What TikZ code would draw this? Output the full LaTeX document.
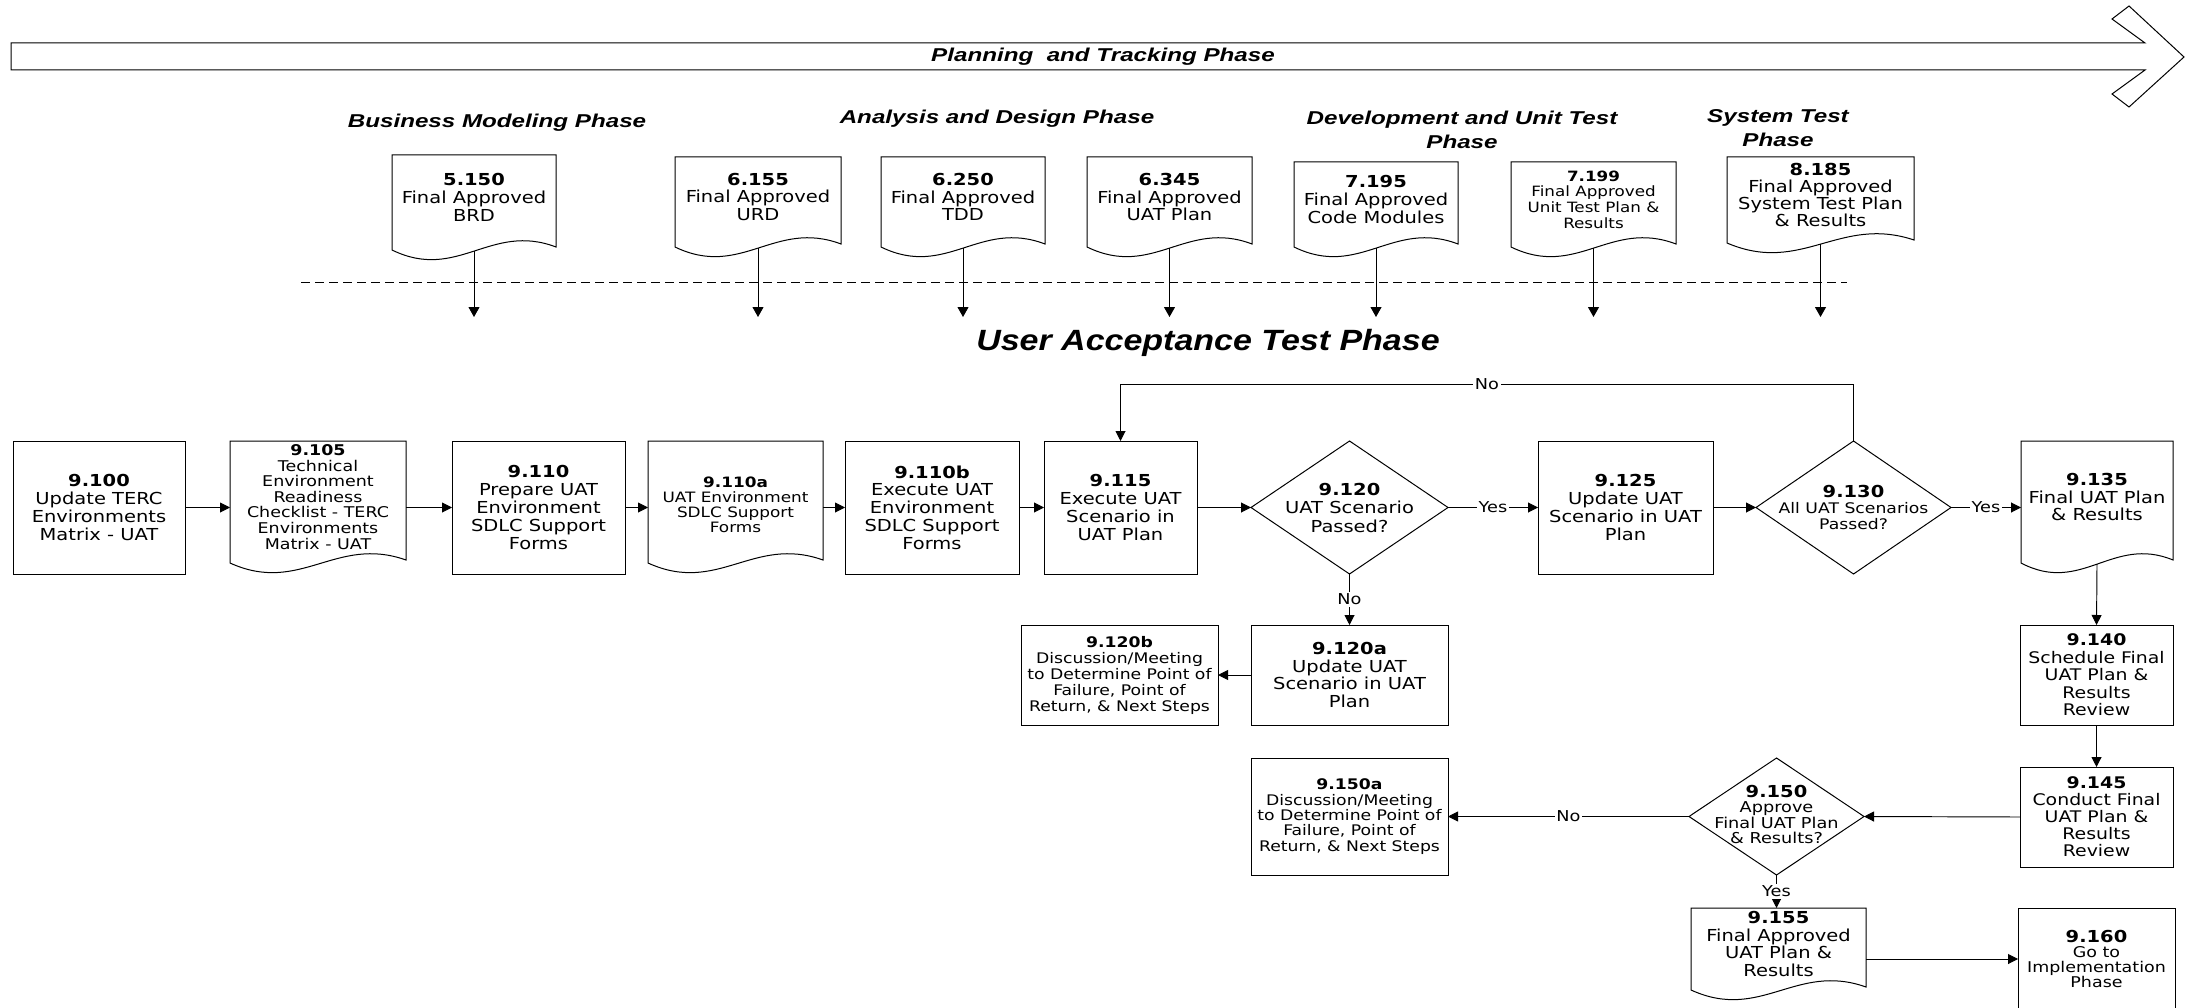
\documentclass[tikz,border=0pt]{standalone}
\usepackage{fontspec}
\usetikzlibrary{arrows.meta,shapes.geometric,calc}
\newfontfamily\bodyf[FakeStretch=1.18]{DejaVu Sans}
\newfontfamily\headf[FakeStretch=1.3]{Liberation Sans}
\newfontfamily\titlef[FakeStretch=1.16]{Liberation Sans}
\newcommand\fsz[2]{\fontsize{#1}{#2}\selectfont}
\begin{document}
\begin{tikzpicture}[x=1pt,y=-1pt,
  every node/.style={inner sep=0pt, outer sep=0pt},
  shp/.style={line width=1pt},
  sz/.style 2 args={minimum width=#1pt, minimum height=#2pt},
  proc/.style={shp, draw, rectangle, align=center, font=\bodyf\fsz{16.5}{17.8}},
  doc/.style={rectangle, align=center, font=\bodyf\fsz{16.5}{17.8}},
  dec/.style={shp, draw, diamond},
  arr/.style={line width=0.95pt, -{Triangle[length=10pt,width=10pt]}},
  lbl/.style={fill=white, font=\bodyf\fsz{15}{15}, inner sep=1.5pt},
  hdr/.style={font=\headf\bfseries\itshape\fsz{18.6}{24}, align=center},
]
\useasboundingbox (0,0) rectangle (2186,1008);
\clip (0,0) rectangle (2186,1008);

% big phase arrow
\draw[shp] (2145,43) -- (11,43) -- (11,70) -- (2145,70) -- (2112,94) -- (2129,107)
  -- (2184,57) -- (2129,6) -- (2112,19) -- cycle;
\node[font=\headf\bfseries\itshape\fsz{18.6}{18}] (ptp) at (1103,57) {Planning\ \ and Tracking Phase};

% phase headers
\node[hdr] (hbm) at (497,123) {Business Modeling Phase};
\node[hdr] (had) at (997,119) {Analysis and Design Phase};
\node[hdr] (hdu) at (1462,130) {Development and Unit Test\\Phase};
\node[hdr] (hst) at (1778,128) {System Test\\Phase};

% top documents
\node[doc,sz={164}{85}] (d5150) at (474,197.5) {\textbf{5.150}\\Final Approved\\BRD};
\node[doc,sz={166}{80}] (d6155) at (758,197) {\textbf{6.155}\\Final Approved\\URD};
\node[doc,sz={164}{80}] (d6250) at (963,197) {\textbf{6.250}\\Final Approved\\TDD};
\node[doc,sz={165}{80}] (d6345) at (1169.5,197) {\textbf{6.345}\\Final Approved\\UAT Plan};
\node[doc,sz={164}{75}] (d7195) at (1376,199.5) {\textbf{7.195}\\Final Approved\\Code Modules};
\node[doc,sz={165}{75},font=\bodyf\fsz{14.2}{15.7}] (d7199) at (1593.5,199.5) {\textbf{7.199}\\Final Approved\\Unit Test Plan \&\\Results};
\node[doc,sz={187}{76},font=\bodyf\fsz{16.5}{17.3}] (d8185) at (1820.5,195) {\textbf{8.185}\\Final Approved\\System Test Plan\\\& Results};

% separator
\coordinate (dl) at (301,282);
\coordinate (dr) at (1847,282);
\draw[line width=1pt, dash pattern=on 9pt off 5pt] (dl) -- (dr);
\coordinate (tipline) at (0,317);

\node[font=\titlef\bfseries\itshape\fsz{29.3}{30}] (title) at (1208,343) {User Acceptance Test Phase};

% main row
\node[proc,sz={172}{133}] (n9100) at (99,507.5) {\textbf{9.100}\\Update TERC\\Environments\\Matrix - UAT};
\node[doc,sz={176}{112},font=\bodyf\fsz{14.8}{15.6}] (n9105) at (318,497) {\textbf{9.105}\\Technical\\Environment\\Readiness\\Checklist - TERC\\Environments\\Matrix - UAT};
\node[proc,sz={173}{133}] (n9110) at (538.5,507.5) {\textbf{9.110}\\Prepare UAT\\Environment\\SDLC Support\\Forms};
\node[doc,sz={175}{112},font=\bodyf\fsz{14.3}{14.8}] (n9110a) at (735.5,497) {\textbf{\rule{0pt}{26pt}9.110a}\\UAT Environment\\SDLC Support\\Forms};
\node[proc,sz={174}{133}] (n9110b) at (932,507.5) {\textbf{9.110b}\\Execute UAT\\Environment\\SDLC Support\\Forms};
\node[proc,sz={153}{133}] (n9115) at (1120.5,507.5) {\textbf{9.115}\\Execute UAT\\Scenario in\\UAT Plan};
\node[dec,sz={197}{133},label={[font=\bodyf\fsz{16.5}{18.5},align=center]center:{\textbf{9.120}\\UAT Scenario\\Passed?}}] (n9120) at (1349.5,507.5) {};
\node[proc,sz={175}{133}] (n9125) at (1625.5,507.5) {\textbf{9.125}\\Update UAT\\Scenario in UAT\\Plan};
\node[dec,sz={195}{133},label={[font=\bodyf\fsz{14.6}{16},align=center]center:{{\fsz{16.5}{16}\bfseries 9.130}\\All UAT Scenarios\\Passed?}}] (n9130) at (1853.5,507.5) {};
\node[doc,sz={152}{112}] (n9135) at (2097,497) {\textbf{9.135}\\Final UAT Plan\\\& Results};

% lower part
\node[proc,sz={197}{100}] (n9120a) at (1349.5,675) {\textbf{9.120a}\\Update UAT\\Scenario in UAT\\Plan};
\node[proc,sz={197}{100},font=\bodyf\fsz{14.6}{16}] (n9120b) at (1119.5,675) {\textbf{9.120b}\\Discussion/Meeting\\to Determine Point of\\Failure, Point of\\Return, \& Next Steps};
\node[proc,sz={153}{100},font=\bodyf\fsz{16}{17.5}] (n9140) at (2096.5,675) {\textbf{9.140}\\Schedule Final\\UAT Plan \&\\Results\\Review};
\node[proc,sz={153}{100},font=\bodyf\fsz{16}{17}] (n9145) at (2096.5,817) {\textbf{9.145}\\Conduct Final\\UAT Plan \&\\Results\\Review};
\node[dec,sz={175}{117},label={[font=\bodyf\fsz{15}{15.2},align=center,yshift=2pt]center:{{\fsz{16.5}{15.2}\bfseries 9.150}\\Approve\\Final UAT Plan\\\& Results?}}] (n9150) at (1776.5,816.5) {};
\node[proc,sz={197}{117},font=\bodyf\fsz{14.6}{15.3}] (n9150a) at (1349.5,816.5) {\textbf{9.150a}\\Discussion/Meeting\\to Determine Point of\\Failure, Point of\\Return, \& Next Steps};
\node[doc,sz={175}{72},font=\bodyf\fsz{16.5}{17.5}] (n9155) at (1778.5,944) {\textbf{9.155}\\Final Approved\\UAT Plan \&\\Results};
\node[proc,sz={157}{102},font=\bodyf\fsz{14.8}{15}] (n9160) at (2096.5,959) {{\fsz{16.5}{15}\bfseries 9.160}\\Go to\\Implementation\\Phase};

% document outlines
\foreach \docn in {d5150,d6155,d6250,d6345,d7195,d7199,d8185,n9105,n9110a,n9135,n9155}
  \draw[shp] let \p1=(\docn.north west), \p2=(\docn.south east), \n1={\x2-\x1} in
   (\p1) -- (\x2,\y1) -- (\x2,\y2-7pt) .. controls (\x1+0.6*\n1,\y2+18pt) and (\x1+0.4*\n1,\y2-42pt) .. (\x1,\y2-10pt) -- cycle;

% top arrows
\foreach \docn in {d5150,d6155,d6250,d6345,d7195,d7199,d8185}
  \draw[line width=0.95pt, -{Triangle[length=10pt,width=11pt]}] ([yshift=-11pt]\docn.south) -- (\docn.south |- tipline);

% connectors
\draw[arr] (n9100.east) -- (n9100.east -| n9105.west);
\draw[arr] (n9105.east |- n9110.west) -- (n9110.west);
\draw[arr] (n9110.east) -- (n9110.east -| n9110a.west);
\draw[arr] (n9110a.east |- n9110b.west) -- (n9110b.west);
\draw[arr] (n9110b.east) -- (n9115.west);
\draw[arr] (n9115.east) -- (n9120.west);
\draw[arr] (n9120.east) -- node[lbl]{Yes} (n9125.west);
\draw[arr] (n9125.east) -- (n9130.west);
\draw[arr] (n9130.east) -- node[lbl]{Yes} (n9130.east -| n9135.west);
\coordinate (loopy) at (0,384);
\draw[arr] (n9130.north) -- (n9130.north |- loopy) -- node[lbl]{No} (n9115.north |- loopy) -- (n9115.north);
\draw[arr] (n9120.south) -- node[lbl]{No} (n9120a.north);
\draw[arr] (n9120a.west) -- (n9120b.east);
\draw[arr] ([yshift=-11pt]n9135.south) -- (n9140.north);
\draw[arr] (n9140.south) -- (n9145.north);
\draw[arr] (n9145.west) -- (n9150.east);
\draw[arr] (n9150.west) -- node[lbl]{No} (n9150a.east);
\draw[arr] (n9150.south) -- node[lbl]{Yes} (n9150.south |- n9155.north);
\draw[arr] (n9155.east |- n9160.west) -- (n9160.west);
\end{tikzpicture}
\end{document}
